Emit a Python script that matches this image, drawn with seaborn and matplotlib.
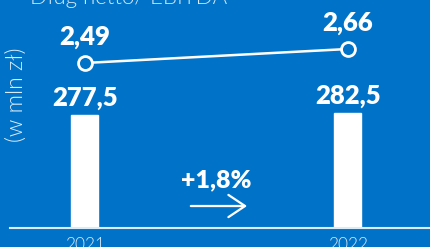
import matplotlib
matplotlib.use("Agg")
import matplotlib.pyplot as plt
import seaborn as sns
import pandas as pd

years = ["2021", "2022"]
debt = [277.5, 282.5]
ratio = [2.49, 2.66]
debt_labels = ["277,5", "282,5"]
ratio_labels = ["2,49", "2,66"]
change_label = "+1,8%"
title = "Dług netto/ EBITDA"
unit = "(w mln zł)"

bg = "#0073c8"
pale = "#dcebf8"

sns.set_theme(style="white")
plt.rcParams["font.family"] = ["Lato", "DejaVu Sans"]

df = pd.DataFrame({"year": years, "debt": debt, "ratio": ratio})

fig = plt.figure(figsize=(4.3, 2.47), dpi=100)
fig.patch.set_facecolor(bg)
ax = fig.add_axes([10 / 430, 19 / 247, 420 / 430, 228 / 247])
ax.set_facecolor(bg)

sns.barplot(data=df, x="year", y="debt", color="white", width=0.103,
            saturation=1, ax=ax)
ax.set_xlim(-0.285, 1.312)
ax.set_ylim(0, 560)
for i, v in enumerate(debt):
    ax.text(i, v + 12, debt_labels[i], ha="center", va="bottom", color="white",
            fontsize=18.5, fontweight="heavy")

ax2 = ax.twinx()
sns.lineplot(x=[0, 1], y=ratio, ax=ax2, color="white", linewidth=1.8,
             marker="o", markersize=10, markerfacecolor=bg,
             markeredgecolor="white", markeredgewidth=2)
ax2.set_ylim(0.486, 3.255)
for i, v in enumerate(ratio):
    ax2.text(i, v + 0.17, ratio_labels[i], ha="center", va="bottom", color="white",
             fontsize=18.5, fontweight="heavy")

for a in (ax, ax2):
    for s in a.spines.values():
        s.set_visible(False)
    a.set_yticks([])
    a.set_ylabel("")
ax.spines["bottom"].set_visible(True)
ax.spines["bottom"].set_color(pale)
ax.spines["bottom"].set_linewidth(1.5)
ax.set_xlabel("")
ax.tick_params(axis="x", length=0, pad=6.5, labelsize=12.5, labelcolor=pale)
for lab in ax.get_xticklabels():
    lab.set_fontweight(300)

ax.text(0.5, 118, change_label, ha="center", va="center", color="white",
        fontsize=18, fontweight="heavy")
ax.annotate("", xy=(0.627, 54), xytext=(0.392, 54),
            arrowprops=dict(arrowstyle="->,head_length=0.6,head_width=0.4",
                            color="white", lw=1.6, mutation_scale=20))

fig.text(30 / 430, 1 - 4 / 247, title, ha="left", va="baseline", color=pale,
         fontsize=16, fontweight=300)
fig.text(16 / 430, 1 - 95 / 247, unit, ha="center", va="center", color=pale,
         fontsize=16.5, fontweight=300, rotation=90)

fig.savefig("out.png", dpi=100, facecolor=bg)
